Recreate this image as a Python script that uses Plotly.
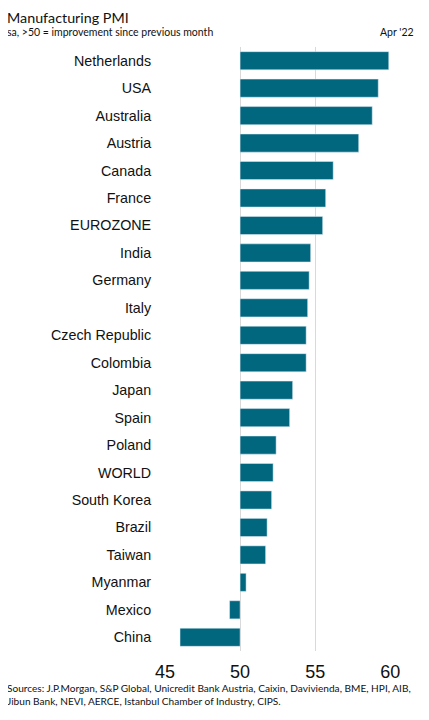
import plotly.graph_objects as go

countries = ["Netherlands", "USA", "Australia", "Austria", "Canada", "France",
             "EUROZONE", "India", "Germany", "Italy", "Czech Republic", "Colombia",
             "Japan", "Spain", "Poland", "WORLD", "South Korea", "Brazil", "Taiwan",
             "Myanmar", "Mexico", "China"]
pmi = [59.9, 59.2, 58.8, 57.9, 56.2, 55.7, 55.5, 54.7, 54.6, 54.5, 54.4, 54.4,
       53.5, 53.3, 52.4, 52.2, 52.1, 51.8, 51.7, 50.4, 49.3, 46.0]

tick_vals = [45, 50, 55, 60]

bar_color = "#00677f"

# page body has an 8px margin, so the figure is a bit smaller than the window
W, H = 421, 712
L, R, T, B = 157, 38, 39, 69
pw, ph = W - L - R, H - T - B

fig = go.Figure()
fig.add_trace(go.Bar(
    y=countries,
    x=[v - 50 for v in pmi],
    base=50,
    orientation="h",
    marker=dict(color=bar_color),
    hoverinfo="skip",
))

fig.update_layout(
    width=W, height=H,
    margin=dict(l=L, r=R, t=T, b=B, autoexpand=False),
    paper_bgcolor="white", plot_bgcolor="white",
    bargap=0.34,
    showlegend=False,
    font=dict(family="Liberation Sans, Arial", color="#111"),
    xaxis=dict(range=[45, 60.05], tickvals=tick_vals, showgrid=True,
               gridcolor="#d9d9d9", gridwidth=1, zeroline=False,
               tickfont=dict(size=18, color="#111"), ticks="outside", ticklen=4,
               tickcolor="white", fixedrange=True, automargin=False),
    yaxis=dict(categoryorder="array", categoryarray=countries[::-1],
               tickfont=dict(size=14.3, color="#111"), ticks="outside",
               ticklen=10, tickcolor="white", showline=False, automargin=False),
)

fig.add_annotation(text="Manufacturing PMI", xref="paper", yref="paper",
                   x=-(L + 3) / pw, y=1 + 30 / ph, xanchor="left", yanchor="middle",
                   showarrow=False, font=dict(size=14.3, family="Lato, Noto Sans", color="#111"))
fig.add_annotation(text="sa, >50 = improvement since previous month", xref="paper", yref="paper",
                   x=-(L + 3) / pw, y=1 + 15 / ph, xanchor="left", yanchor="middle",
                   showarrow=False, font=dict(size=10.5, family="Lato, Noto Sans", color="#111"))
fig.add_annotation(text="Apr '22", xref="paper", yref="paper",
                   x=1 + 25 / pw, y=1 + 15 / ph, xanchor="right", yanchor="middle",
                   showarrow=False, font=dict(size=10.5, family="Lato, Noto Sans", color="#111"))
fig.add_annotation(text="Sources: J.P.Morgan, S&P Global, Unicredit Bank Austria, Caixin, Davivienda, BME, HPI, AIB,<br>Jibun Bank, NEVI, AERCE, Istanbul Chamber of Industry, CIPS.",
                   xref="paper", yref="paper",
                   x=-(L + 3) / pw, y=-29 / ph, xanchor="left", yanchor="top", align="left",
                   showarrow=False, font=dict(size=10.1, family="Lato, Noto Sans", color="#111"))

fig.write_html("out.html")
